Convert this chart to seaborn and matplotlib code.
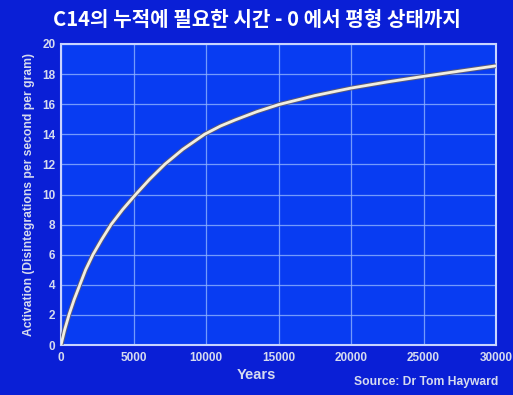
import matplotlib
matplotlib.use("Agg")
import matplotlib.pyplot as plt
import matplotlib.patheffects as pe
import seaborn as sns
import pandas as pd

years = [0, 250, 550, 900, 1300, 1700, 2200, 2800, 3450, 4250, 5150, 6100, 7150,
         8400, 9900, 11000, 12000, 13500, 15000, 17500, 20000, 22500,
         25000, 27500, 30000]
activation = [0, 1.0, 2.0, 3.0, 4.0, 5.0, 6.0, 7.0, 8.0, 9.0, 10.0, 11.0, 12.0,
              13.0, 14.0, 14.55, 14.95, 15.5, 15.97, 16.57, 17.07, 17.48,
              17.85, 18.2, 18.55]
xticks = [0, 5000, 10000, 15000, 20000, 25000, 30000]
yticks = [0, 2, 4, 6, 8, 10, 12, 14, 16, 18, 20]

title = "C14의 누적에 필요한 시간 - 0 에서 평형 상태까지"
xlabel = "Years"
ylabel = "Activation (Disintegrations per second per gram)"
source = "Source: Dr Tom Hayward"

sns.set_theme(style="white")
plt.rcParams['font.family'] = ['Liberation Sans', 'DejaVu Sans']

outer_bg = "#0a1fd6"
inner_bg = "#083cf2"
text_col = "#d6dbef"

fig = plt.figure(figsize=(5.13, 3.95), dpi=100, facecolor=outer_bg)
ax = fig.add_axes([61/513, 1-345/395, (496-61)/513, (345-44)/395])
ax.set_facecolor(inner_bg)

df = pd.DataFrame({"Years": years, "Activation": activation})
sns.lineplot(data=df, x="Years", y="Activation", ax=ax, color="#f2efe2", lw=2.0,
             path_effects=[pe.Stroke(linewidth=3.4, foreground="#5a5a78"), pe.Normal()],
             zorder=5)

ax.set_xlim(0, 30000)
ax.set_ylim(0, 20)
ax.set_xticks(xticks)
ax.set_yticks(yticks)
ax.set_xticklabels([str(t) for t in xticks])
ax.set_yticklabels([str(t) for t in yticks])
ax.grid(True, color="#8fb2ff", lw=0.9, alpha=0.8)
for s in ax.spines.values():
    s.set_color("#c8d4ff")
    s.set_linewidth(1.5)
ax.tick_params(axis="both", length=0, colors=text_col, labelsize=8.5)
ax.tick_params(axis="x", pad=5)
ax.tick_params(axis="y", pad=4)
for lab in ax.get_xticklabels() + ax.get_yticklabels():
    lab.set_fontweight("bold")

ax.set_xlabel("")
ax.set_ylabel(ylabel, color=text_col, fontsize=8.7, fontweight="bold", labelpad=5)

fig.text(256/513, 1-375/395, xlabel, color=text_col, fontsize=10.5, fontweight="bold",
         ha="center", va="center")
fig.text(498/513, 1-382/395, source, color=text_col, fontsize=8.7, fontweight="bold",
         ha="right", va="center")
fig.text(0.5, 1-20/395, title, color="white", fontsize=14.5, fontweight="bold",
         ha="center", va="center", family=['Noto Sans CJK KR', 'DejaVu Sans'])

fig.savefig("out.png", dpi=100, facecolor=outer_bg)
